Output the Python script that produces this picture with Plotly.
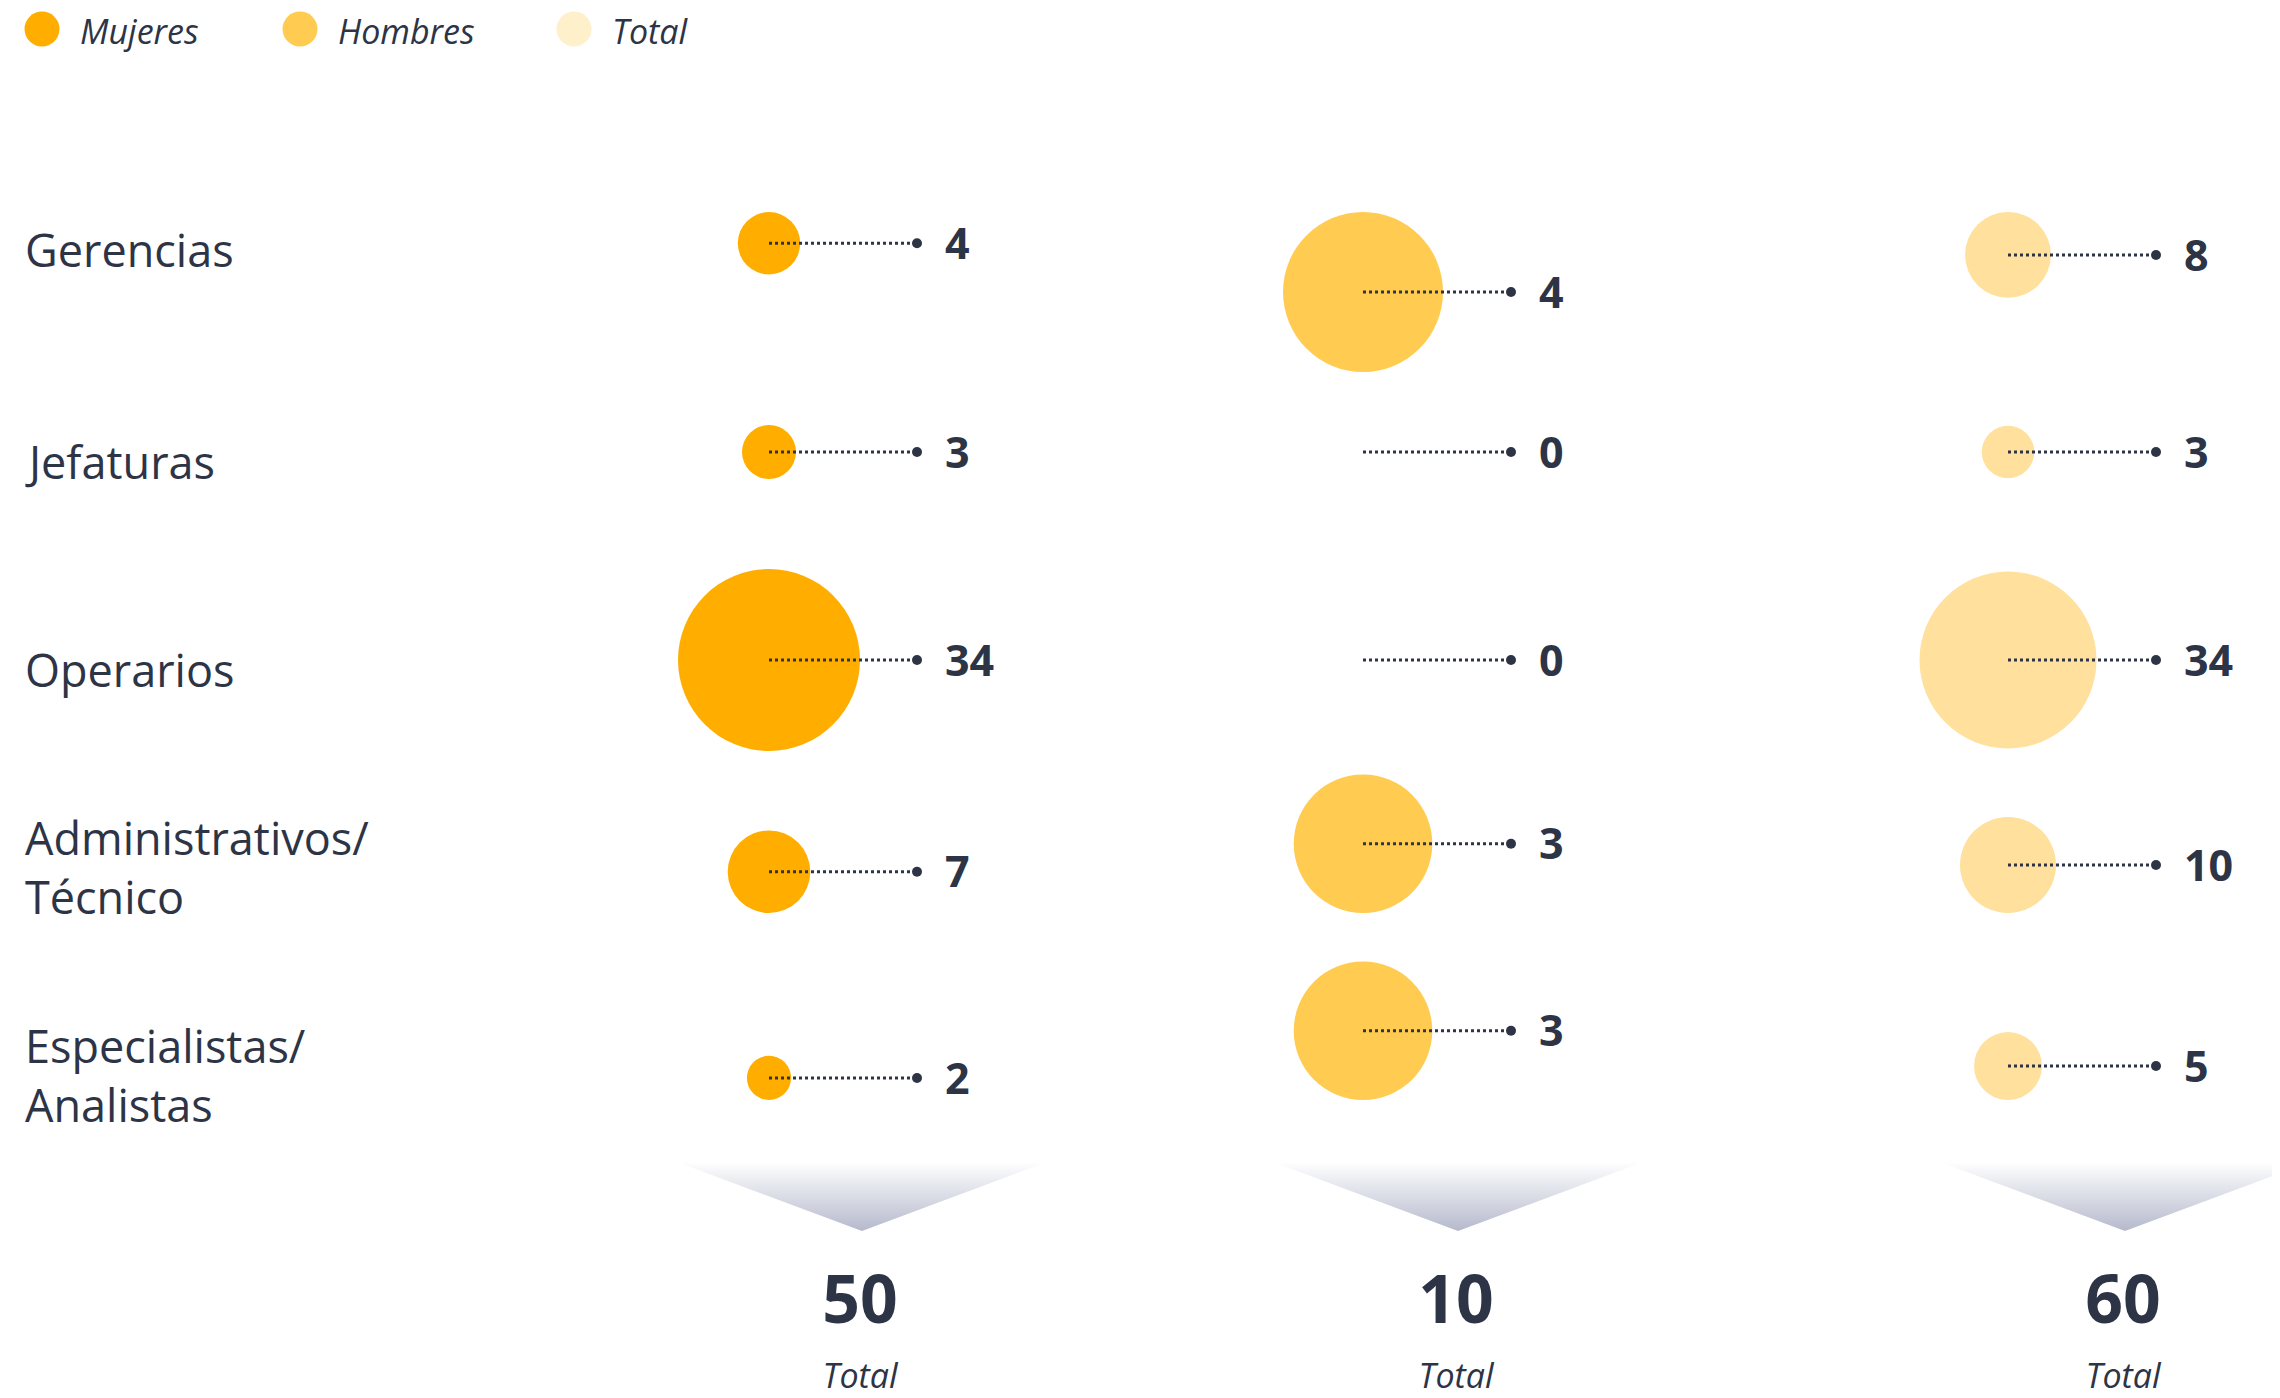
import numpy as np
import plotly.graph_objects as go

# data
categories = ["Gerencias", "Jefaturas", "Operarios",
              "Administrativos/Técnico", "Especialistas/Analistas"]
series_names = ["Mujeres", "Hombres", "Total"]
mujeres = [4, 3, 34, 7, 2]
hombres = [4, 0, 0, 3, 3]
total = [8, 3, 34, 10, 5]
total_label = "Total"

# layout constants (pixel space of the 2280x1398 page)
W, H = 2280, 1398
OFF = 8                              # body margin of the html page
DARK = "#2d3446"
FONT = "Open Sans"
bubble_colors = ["#ffae00", "#ffcb50", "#ffe09c"]
legend_colors = ["#ffae00", "#ffcb50", "#fff0cc"]
col_x = [769, 1363, 2008]          # bubble centres
max_diam = [182, 160, 177]          # diameter of the largest bubble per column
row_align = ["top", "middle", "middle", "bottom", "bottom"]
row_anchor = [212, 452, 660, 913, 1100]
label_y = [249, 461, 669, 867, 1075]
line_len = 148
chev_x = [862, 1458, 2125]
chev_top, chev_tip, chev_half = 1162, 1231, 185
legend_x = [42, 300, 574]


def diameters(vals, dmax):
    v = np.array(vals, dtype=float)
    return dmax * np.sqrt(v / v.max())


def centres(diam):
    ys = []
    for d, a, y0 in zip(diam, row_align, row_anchor):
        if a == "top":
            ys.append(y0 + d / 2)
        elif a == "bottom":
            ys.append(y0 - d / 2)
        else:
            ys.append(y0)
    return ys


fig = go.Figure()

for i, vals in enumerate([mujeres, hombres, total]):
    d = diameters(vals, max_diam[i])
    ys = centres(d)
    cx = col_x[i]
    vmax = max(vals)

    # bubbles (area proportional inside the column)
    fig.add_trace(go.Scatter(
        x=[cx] * len(vals), y=ys, mode="markers",
        marker=dict(size=vals, sizemode="area",
                    sizeref=2.0 * vmax / max_diam[i] ** 2,
                    color=bubble_colors[i], opacity=1, line=dict(width=0)),
        name=series_names[i], hoverinfo="skip"
    ))

    # dotted leader lines
    lx, ly = [], []
    for y in ys:
        lx += [cx, cx + line_len, None]
        ly += [y, y, None]
    fig.add_trace(go.Scatter(
        x=lx, y=ly, mode="lines",
        line=dict(color=DARK, width=3, dash="dot"),
        hoverinfo="skip"
    ))

    # end dots
    fig.add_trace(go.Scatter(
        x=[cx + line_len] * len(vals), y=ys, mode="markers",
        marker=dict(size=10, color=DARK), hoverinfo="skip"
    ))

    # value labels
    fig.add_trace(go.Scatter(
        x=[cx + line_len + 28] * len(vals), y=[y + 5 for y in ys],
        mode="text",
        text=[str(v) for v in vals], textposition="middle right",
        textfont=dict(family=FONT, size=43, color=DARK, weight=700),
        hoverinfo="skip"
    ))

    # chevron with vertical gradient (white at the top)
    c = chev_x[i]
    fig.add_trace(go.Scatter(
        x=[c - chev_half, c + chev_half, c, c - chev_half],
        y=[chev_top, chev_top, chev_tip, chev_top],
        mode="lines", fill="toself", line=dict(width=0),
        fillgradient=dict(type="vertical",
                          colorscale=[[0, "#b5b9cc"],
                                      [1, "rgba(255,255,255,1)"]]),
        hoverinfo="skip"
    ))

    # column total
    fig.add_trace(go.Scatter(
        x=[c - 2], y=[1306], mode="text", text=[str(sum(vals))],
        textfont=dict(family=FONT, size=66, color=DARK, weight=700),
        hoverinfo="skip"
    ))
    fig.add_trace(go.Scatter(
        x=[c - 2], y=[1379], mode="text", text=[total_label],
        textfont=dict(family=FONT, size=34, color=DARK, style="italic"),
        hoverinfo="skip"
    ))

# legend (drawn by hand to keep the big round swatches)
fig.add_trace(go.Scatter(
    x=legend_x, y=[29] * 3, mode="markers",
    marker=dict(size=35, color=legend_colors), hoverinfo="skip"
))
for lx0, name in zip(legend_x, series_names):
    fig.add_annotation(
        x=lx0 + 36, y=31, xref="x", yref="y", text=name, showarrow=False,
        xanchor="left", yanchor="middle",
        font=dict(family=FONT, size=34, color=DARK, style="italic")
    )

# row labels
for cat, y in zip(categories, label_y):
    fig.add_annotation(
        x=23, y=y, xref="x", yref="y", text=cat.replace("/", "/<br>"),
        showarrow=False, xanchor="left", yanchor="middle", align="left",
        font=dict(family=FONT, size=45, color=DARK)
    )

fig.update_layout(
    width=W, height=H,
    margin=dict(l=0, r=0, t=0, b=0),
    paper_bgcolor="white", plot_bgcolor="white",
    showlegend=False,
    xaxis=dict(range=[OFF, W + OFF], visible=False, fixedrange=True),
    yaxis=dict(range=[H + OFF, OFF], visible=False, fixedrange=True),
)

fig.write_html("out.html")
